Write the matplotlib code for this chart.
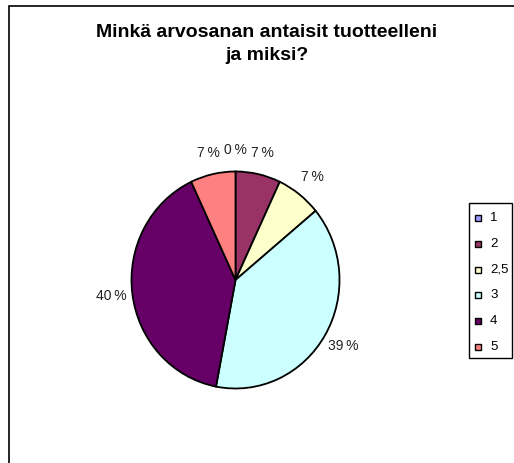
import matplotlib
matplotlib.use("Agg")
import matplotlib.pyplot as plt
from matplotlib.patches import Rectangle

plt.rcParams['font.family'] = ['Liberation Sans', 'DejaVu Sans']

# data
categories = ['1', '2', '2,5', '3', '4', '5']
shares = [0, 7, 7, 39, 40, 7]
colors = ['#9999FF', '#993366', '#FFFFCC', '#CCFFFF', '#660066', '#FF8080']
title = 'Minkä arvosanan antaisit tuotteelleni\nja miksi?'

W, H = 514, 463
fig = plt.figure(figsize=(W / 100, H / 100), dpi=100)

def fx(px):
    return px / W

def fy(py):
    return 1 - py / H

# outer chart frame (right and bottom edges run off the image)
fig.patches.append(Rectangle((fx(9), fy(600)), 2, fy(6) - fy(600),
                             transform=fig.transFigure, fill=False,
                             edgecolor='black', linewidth=1.2))

fig.text(fx(267), fy(24), title, ha='center', va='top', fontsize=14,
         fontweight='bold', linespacing=1.5)

# pie
cx, cy, rx, ry = 235.5, 280, 104, 108.5
ax = fig.add_axes([fx(cx - rx), fy(cy + ry), 2 * rx / W, 2 * ry / H])
ax.pie(shares, colors=colors, startangle=90, counterclock=False,
       wedgeprops=dict(edgecolor='black', linewidth=1.3),
       autopct=lambda p: f'{p:.0f}\u2009%', pctdistance=1.2,
       textprops=dict(fontsize=10, color='#222222'))
ax.set_aspect('auto')
ax.set_xlim(-1, 1)
ax.set_ylim(-1, 1)
ax.axis('off')

# legend
fig.patches.append(Rectangle((fx(469), fy(358)), fx(512) - fx(469), fy(203) - fy(358),
                             transform=fig.transFigure, fill=False,
                             edgecolor='black', linewidth=1.0))
for i, (cat, col) in enumerate(zip(categories, colors)):
    yc = 218 + i * 25.8
    fig.patches.append(Rectangle((fx(475), fy(yc + 3)), 6 / W, 6 / H,
                                 transform=fig.transFigure, facecolor=col,
                                 edgecolor='black', linewidth=1.0))
    fig.text(fx(490), fy(yc), cat, ha='left', va='center', fontsize=9.5)

fig.savefig('out.png', dpi=100)
